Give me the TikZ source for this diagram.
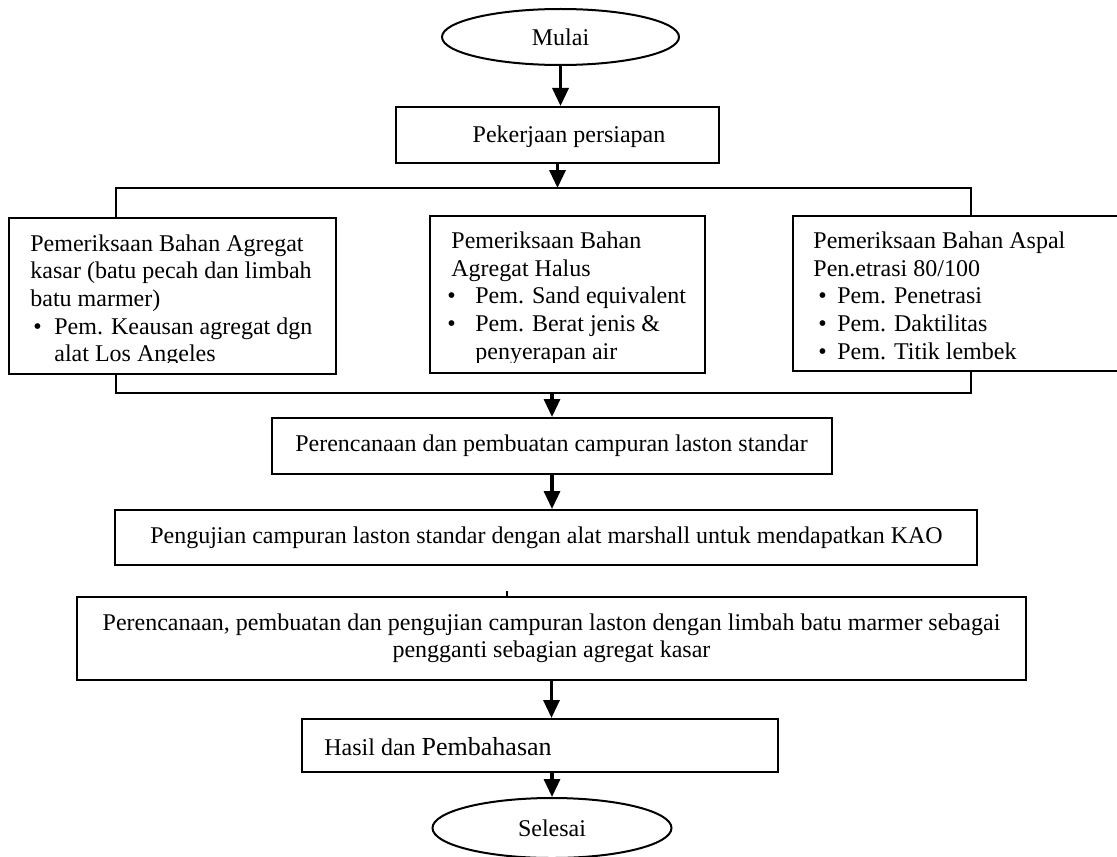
\documentclass[tikz,border=0pt]{standalone}
\usepackage{fontspec}
\setmainfont{Liberation Serif}
\usetikzlibrary{arrows.meta,fit,shapes.geometric}
\newcommand\bulx[1]{\makebox[12pt][l]{\hspace*{#1}•}}
\tikzset{
  box/.style={draw, line width=1pt, inner sep=0pt, rectangle},
  term/.style={draw, line width=1pt, ellipse, inner sep=0pt, font=\fontsize{12}{13.85}\selectfont},
  txt/.style={inner sep=0pt, font=\fontsize{12}{13.85}\selectfont},
  flow/.style={line width=1.65pt, -{Triangle[width=8pt,length=9pt]}},
  link/.style={line width=0.9pt},
}
\begin{document}
\begin{tikzpicture}[x=0.5pt,y=-0.5pt]
\useasboundingbox (0,0) rectangle (1117,856);
\clip (0,0) rectangle (1117,856);

% terminals
\node[term, minimum width=118.5pt, minimum height=28pt] (mulai) at (560.5,37) {Mulai};
\node[term, minimum width=119.5pt, minimum height=30pt] (selesai) at (552,828) {Selesai};

% boxes
\node[box, fit={(396,107)(719,163)}] (prep) {};
\node[box, fit={(9,218)(336,374)}] (k1) {};
\node[box, fit={(430,216)(705,373)}] (k2) {};
\node[box, fit={(793,216)(1121,371)}] (k3) {};
\node[box, fit={(272,418)(832,474)}] (plan) {};
\node[box, fit={(115,510)(977,565)}] (test) {};
\node[box, fit={(77,597)(1026,680)}] (big) {};
\node[box, fit={(302,719)(778,772)}] (hasil) {};

% texts
\node[txt, anchor=base] (tprep) at (569,142) {Pekerjaan persiapan};
\begin{scope}
\clip (9,216) rectangle (336,362.5);
\node[txt, anchor=base west] (tk1) at (30,251) {\begin{tabular}[t]{@{}l@{}}Pemeriksaan Bahan Agregat\\ kasar (batu pecah dan limbah\\ batu marmer)\\ \bulx{1.5pt}Pem. Keausan agregat dgn\\ \hspace*{12pt}alat Los Angeles\end{tabular}};
\end{scope}
\begin{scope}
\clip (430,216) rectangle (705,362.5);
\node[txt, anchor=base west] (tk2) at (451,248.3) {\begin{tabular}[t]{@{}l@{}}Pemeriksaan Bahan\\ Agregat Halus\\ \bulx{-2pt}Pem. Sand equivalent\\ \bulx{-2pt}Pem. Berat jenis \&\\ \hspace*{12pt}penyerapan air\end{tabular}};
\end{scope}
\begin{scope}
\clip (793,216) rectangle (1121,360.5);
\node[txt, anchor=base west] (tk3) at (813,248.3) {\begin{tabular}[t]{@{}l@{}}Pemeriksaan Bahan Aspal\\ Pen.etrasi 80/100\\ \bulx{2.5pt}Pem. Penetrasi\\ \bulx{2.5pt}Pem. Daktilitas\\ \bulx{2.5pt}Pem. Titik lembek\end{tabular}};
\end{scope}
\node[txt, anchor=base] (tplan) at (551.5,451) {Perencanaan dan pembuatan campuran laston standar};
\node[txt, anchor=base] (ttest) at (546.5,543) {Pengujian campuran laston standar dengan alat marshall untuk mendapatkan KAO};
\node[txt, anchor=base] (tbig) at (551.5,630) {\begin{tabular}[t]{@{}c@{}}Perencanaan, pembuatan dan pengujian campuran laston dengan limbah batu marmer sebagai\\ pengganti sebagian agregat kasar\end{tabular}};
\node[txt, anchor=base west] (thasil) at (324,755) {Hasil dan {\fontsize{13}{15}\selectfont Pembahasan}};

% connectors
\coordinate (sl) at (116,188);
\coordinate (sr) at (971,188);
\coordinate (jl) at (116,393);
\coordinate (jr) at (971,393);
\coordinate (join) at (552,393);
\coordinate (tick) at (507,591);

\draw[flow] (mulai.south) -- (mulai.south |- prep.north);
\draw[flow] (prep.south) -- (prep.south |- sl);
\draw[link] (sl |- k1.north) -- (sl) -- (sr) -- (sr |- k3.north);
\draw[link] (jl |- k1.south) -- (jl) -- (jr) -- (jr |- k3.south);
\draw[flow] (join) -- (join |- plan.north);
\draw[flow] (plan.south) -- (plan.south |- test.north);
\draw[link] (tick) -- (tick |- big.north);
\draw[flow] (big.south) -- (big.south |- hasil.north);
\draw[flow] (hasil.south -| selesai.north) -- (selesai.north);
\end{tikzpicture}
\end{document}
